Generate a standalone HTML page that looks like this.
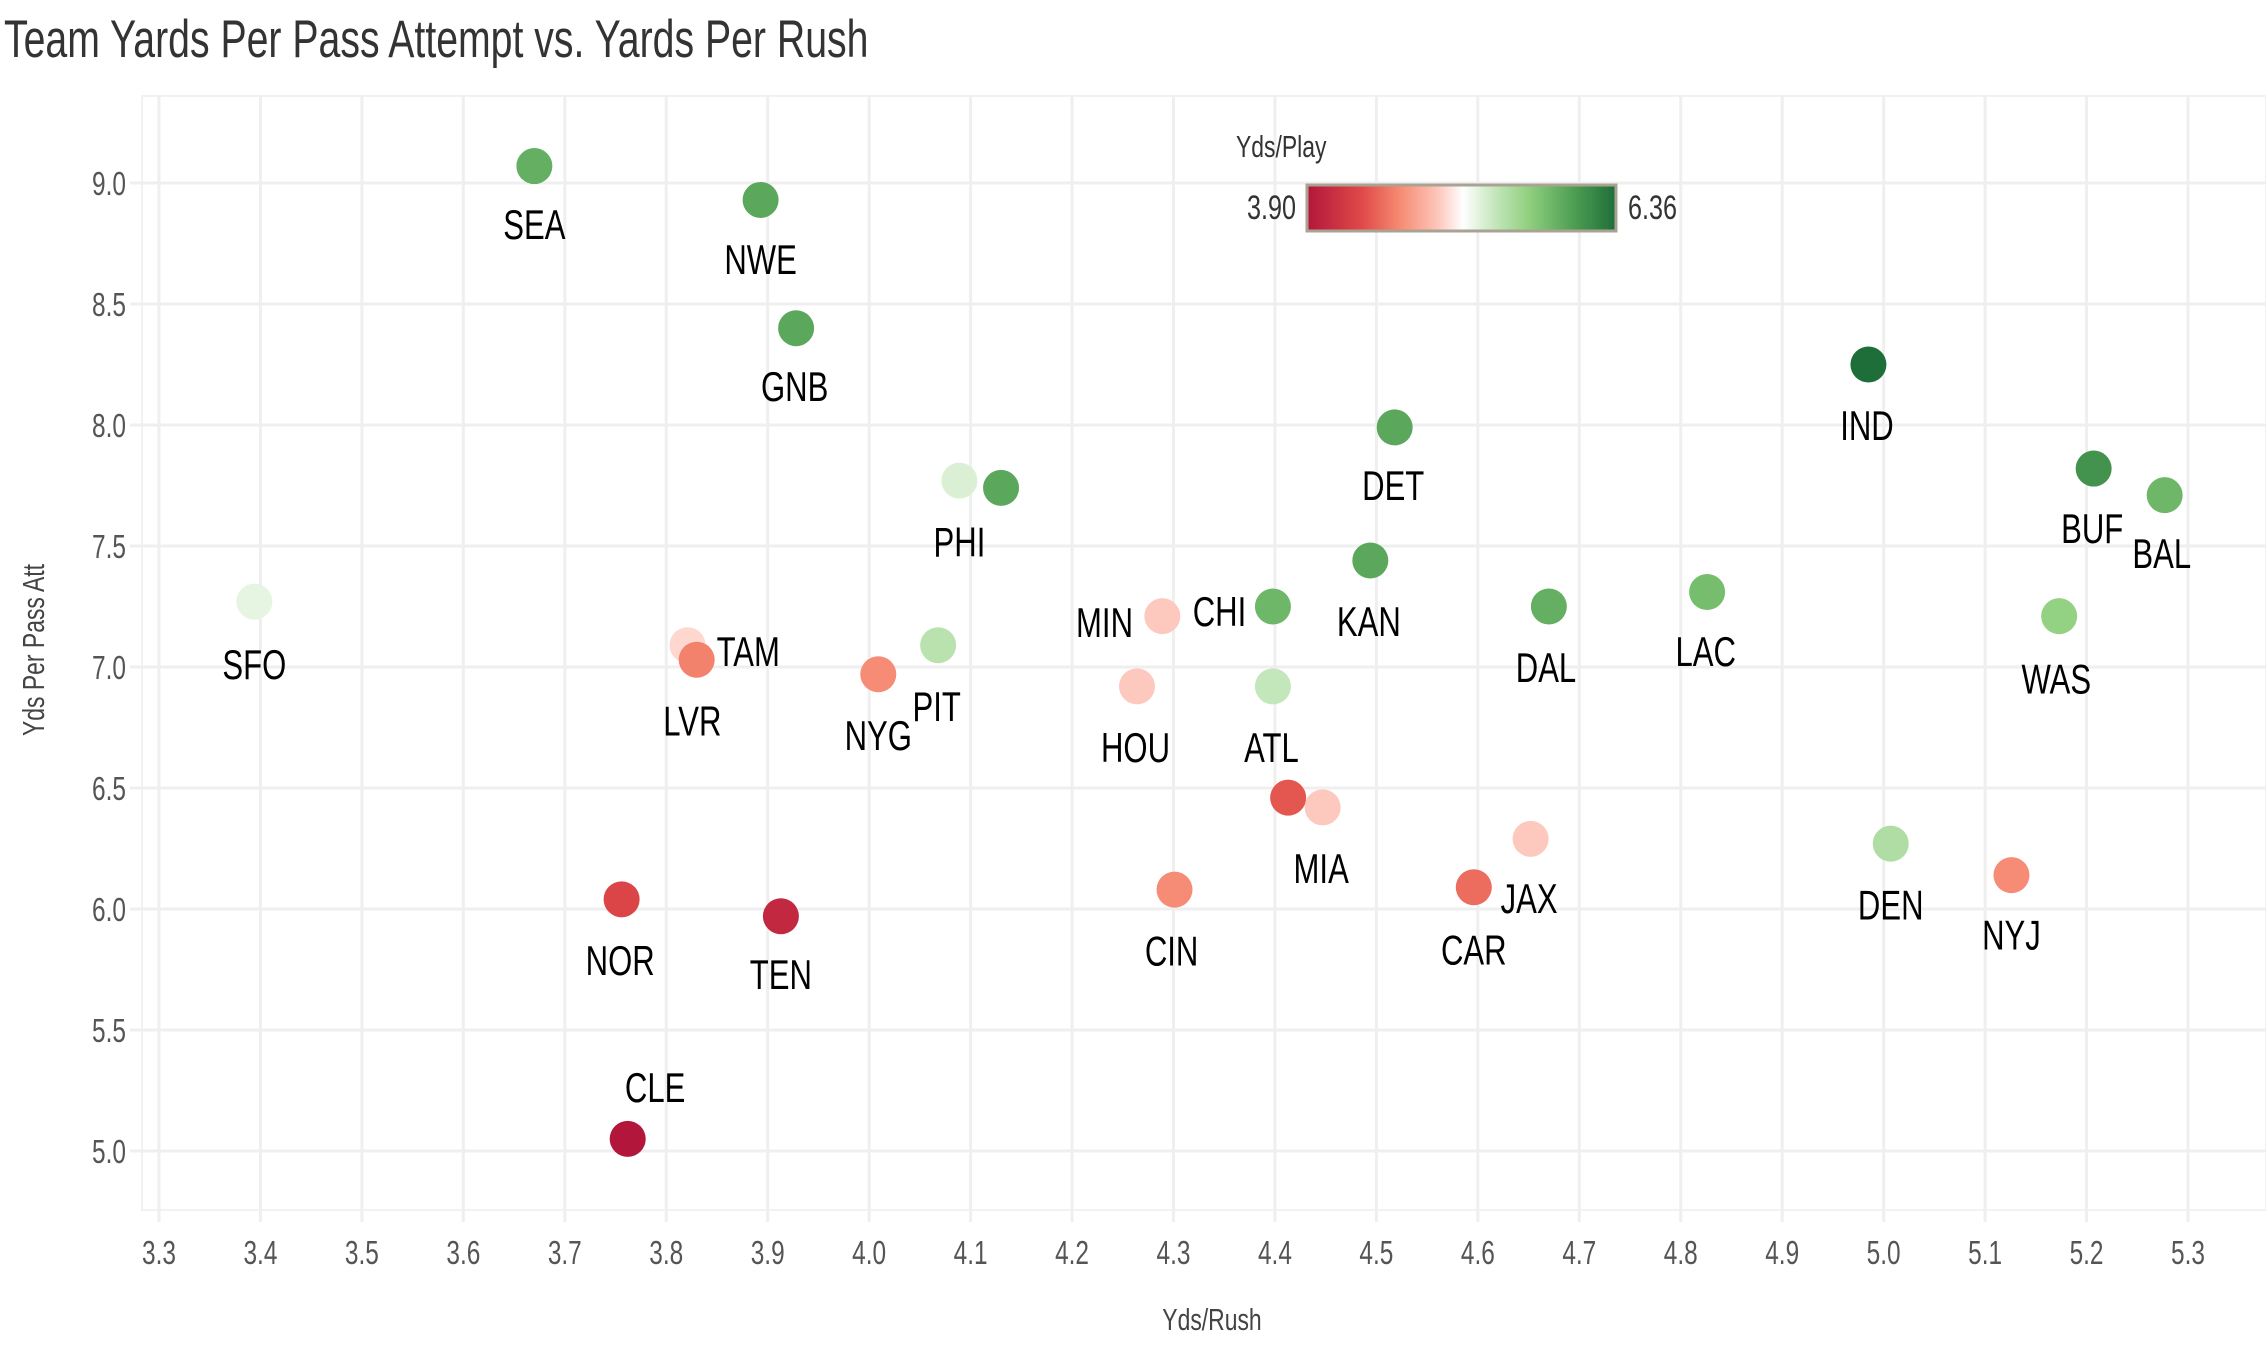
<!DOCTYPE html>
<html><head><meta charset="utf-8"><style>
html,body{margin:0;padding:0;background:#fff;}
svg{display:block;font-family:"Liberation Sans Narrow","Liberation Sans",sans-serif;}
</style></head><body>
<svg id="chart" width="2266" height="1348" viewBox="0 0 2266 1348">
<text class="cd" x="4" y="57" font-size="53" fill="#333">Team Yards Per Pass Attempt vs. Yards Per Rush</text>
<g id="grid"></g>
<g id="ticks"></g>
<text class="cd" x="1212" y="1330" font-size="31" fill="#444" text-anchor="middle">Yds/Rush</text>
<g transform="translate(44,650) rotate(-90)"><text class="cd" x="0" y="0" font-size="31" fill="#444" text-anchor="middle">Yds Per Pass Att</text></g>
<g id="points"></g>
<g>
<defs><linearGradient id="grad" x1="0" x2="1" y1="0" y2="0">
<stop offset="0" stop-color="#b2163a"/><stop offset="0.18" stop-color="#e04a48"/><stop offset="0.3" stop-color="#f68a72"/><stop offset="0.42" stop-color="#fdc4b8"/><stop offset="0.505" stop-color="#ffffff"/><stop offset="0.6" stop-color="#c8e8c0"/><stop offset="0.72" stop-color="#8fcf7e"/><stop offset="0.86" stop-color="#4f9f54"/><stop offset="1" stop-color="#1e6e3a"/></linearGradient></defs>
<text class="cd" x="1236" y="157" font-size="31" fill="#333">Yds/Play</text>
<rect x="1307" y="185" width="309" height="46" fill="url(#grad)" stroke="#aaa393" stroke-width="3"/>
<text class="cd" x="1296" y="219" font-size="34" fill="#333" text-anchor="end">3.90</text>
<text class="cd" x="1628" y="219" font-size="34" fill="#333">6.36</text>
</g>
</svg>
<script>
const teams=["SEA","NWE","GNB","IND","DET","PHI","LAR","BUF","BAL","KAN","SFO","MIN","CHI","LAC","DAL","WAS","TAM","LVR","PIT","NYG","HOU","ATL","MIA","ARI","JAX","DEN","NYJ","CIN","CAR","NOR","TEN","CLE"];
const ydsRush=[3.670,3.893,3.928,4.985,4.518,4.089,4.130,5.207,5.277,4.494,3.394,4.289,4.398,4.826,4.670,5.173,3.821,3.830,4.068,4.009,4.264,4.398,4.447,4.413,4.652,5.007,5.126,4.301,4.596,3.756,3.913,3.762];
const ydsPass=[9.07,8.93,8.40,8.25,7.99,7.77,7.74,7.82,7.71,7.44,7.27,7.21,7.25,7.31,7.25,7.21,7.09,7.03,7.09,6.97,6.92,6.92,6.42,6.46,6.29,6.27,6.14,6.08,6.09,6.04,5.97,5.05];
const ydsPlay=[5.9,5.95,5.95,6.36,5.95,5.3,5.95,6.1,5.85,5.95,5.25,4.95,5.85,5.8,5.9,5.65,5.0,4.6,5.45,4.65,4.95,5.4,4.95,4.4,4.95,5.5,4.65,4.65,4.5,4.3,4.05,3.90];
const xTicks=["3.3","3.4","3.5","3.6","3.7","3.8","3.9","4.0","4.1","4.2","4.3","4.4","4.5","4.6","4.7","4.8","4.9","5.0","5.1","5.2","5.3"];
const yTicks=["5.0","5.5","6.0","6.5","7.0","7.5","8.0","8.5","9.0"];
const labelDx={SEA:0,NWE:0,GNB:-1,IND:-1,DET:-1,PHI:0,BUF:-1,BAL:-2,KAN:-1,SFO:0,MIN:-40,CHI:-37,LAC:-1,DAL:-2,WAS:-2,TAM:42,LVR:-3,PIT:-1,NYG:0,HOU:-1,ATL:-1,MIA:-1,JAX:-1,DEN:0,NYJ:0,CIN:-2,CAR:0,NOR:-1,TEN:0,CLE:19};
const labelDy={SEA:40,NWE:41,GNB:40,IND:42,DET:40,PHI:42,BUF:41,BAL:40,KAN:42,SFO:43,MIN:4,CHI:3,LAC:41,DAL:42,WAS:43,TAM:4,LVR:42,PIT:42,NYG:42,HOU:42,ATL:42,MIA:42,JAX:41,DEN:42,NYJ:41,CIN:42,CAR:43,NOR:42,TEN:40,CLE:-36};
const NS="http://www.w3.org/2000/svg";
const X0=159,XS=1014.5,Y0=183,YS=242;
function xs(v){return X0+(v-3.3)*XS;}
function ys(v){return Y0+(9.0-v)*YS;}
const stops=[[0,[178,22,58]],[0.18,[224,74,72]],[0.3,[246,138,114]],[0.42,[253,196,184]],[0.505,[255,255,255]],[0.6,[200,232,192]],[0.72,[143,207,126]],[0.86,[79,159,84]],[1,[30,110,58]]];
function color(v){let t=(v-3.90)/(6.36-3.90);t=Math.max(0,Math.min(1,t));
for(let i=1;i<stops.length;i++){if(t<=stops[i][0]){const a=stops[i-1],b=stops[i];const f=(t-a[0])/(b[0]-a[0]);
return "rgb("+a[1].map((c,k)=>Math.round(c+(b[1][k]-c)*f)).join(",")+")";}}return "rgb(30,110,58)";}
const grid=document.getElementById('grid'),ticks=document.getElementById('ticks'),pts=document.getElementById('points');
function mk(tag,attrs,parent){const e=document.createElementNS(NS,tag);for(const k in attrs)e.setAttribute(k,attrs[k]);parent.appendChild(e);return e;}
const panel=mk('rect',{x:142,y:96,width:2124,height:1114,fill:'none',stroke:'#f2f2f2','stroke-width':2},grid);


xTicks.forEach(t=>{const x=xs(parseFloat(t));
const l=mk('line',{x1:x,x2:x,y1:96,y2:1222,stroke:'#efefef','stroke-width':3},grid);


const tx=mk('text',{x:x,y:1264,'font-size':33,fill:'#555','text-anchor':'middle',class:'cd'},ticks);tx.textContent=t;

});
yTicks.forEach(t=>{const y=ys(parseFloat(t));
const l=mk('line',{x1:130,x2:2266,y1:y,y2:y,stroke:'#efefef','stroke-width':3},grid);


const tx=mk('text',{x:126,y:y+12,'font-size':33,fill:'#555','text-anchor':'end',class:'cd'},ticks);tx.textContent=t;

});
teams.forEach((t,i)=>{const cx=xs(ydsRush[i]),cy=ys(ydsPass[i]);
const c=mk('circle',{cx:cx,cy:cy,r:18,fill:color(ydsPlay[i])},pts);


if(labelDx[t]!==undefined){const tx=mk('text',{x:cx+labelDx[t]*1.445,y:cy+labelDy[t]*1.445+15,'font-size':42,fill:'#000','text-anchor':'middle',class:'cd'},pts);tx.textContent=t;

}});
document.querySelectorAll('text.cd').forEach(el=>{const x=parseFloat(el.getAttribute('x'));
el.setAttribute('transform','translate('+x+',0) scale(0.74,1) translate('+(-x)+',0)');});
</script>
</body></html>
